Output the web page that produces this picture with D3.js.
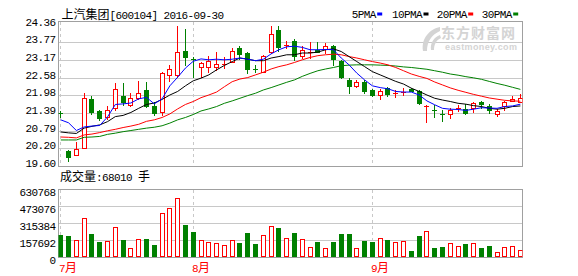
<!DOCTYPE html>
<html>
<head>
<meta charset="utf-8">
<script src="https://cdn.jsdelivr.net/npm/d3@7/dist/d3.min.js"></script>
<style>
body { margin: 0; background: #fff; }
svg { display: block; }
text { font-family: "Liberation Mono", monospace; font-size: 11px; letter-spacing: -0.6px; }
.cjk { font-family: "Noto Sans CJK SC", sans-serif; font-size: 12px; letter-spacing: 0; }
</style>
</head>
<body>
<svg id="chart" width="578" height="276"></svg>
<script>
var stockName = "上汽集团";
var stockCode = "[600104]";
var dates = [
    "2016-07-07", "2016-07-08", "2016-07-11", "2016-07-12", "2016-07-13", "2016-07-14", "2016-07-15",
    "2016-07-18", "2016-07-19", "2016-07-20", "2016-07-21", "2016-07-22", "2016-07-25", "2016-07-26",
    "2016-07-27", "2016-07-28", "2016-07-29",
    "2016-08-01", "2016-08-02", "2016-08-03", "2016-08-04", "2016-08-05", "2016-08-08", "2016-08-09",
    "2016-08-10", "2016-08-11", "2016-08-12", "2016-08-15", "2016-08-16", "2016-08-17", "2016-08-18",
    "2016-08-19", "2016-08-22", "2016-08-23", "2016-08-24", "2016-08-25", "2016-08-26", "2016-08-29",
    "2016-08-30", "2016-08-31",
    "2016-09-01", "2016-09-02", "2016-09-05", "2016-09-06", "2016-09-07", "2016-09-08", "2016-09-09",
    "2016-09-12", "2016-09-13", "2016-09-14", "2016-09-19", "2016-09-20", "2016-09-21", "2016-09-22",
    "2016-09-23", "2016-09-26", "2016-09-27", "2016-09-28", "2016-09-29", "2016-09-30"
];
var opens = [21.37, 20.11, 19.97, 20.21, 21.85, 21.45, 21.26, 21.54, 21.96, 21.66, 21.88, 22.16, 21.63, 21.41, 22.67, 22.67, 23.48,
    23.22, 22.95, 22.93, 22.95, 22.99, 23.12, 23.57, 23.41, 22.87, 22.78, 23.43, 24.19, 23.66, 23.80, 23.32, 23.43, 23.52, 23.54, 23.65, 23.15, 22.50, 22.31, 22.42,
    22.16, 21.99, 22.22, 22.04, 22.08, 22.20, 22.12, 21.59, 21.47, 21.35, 21.34, 21.53, 21.51, 21.56, 21.75, 21.62, 21.34, 21.62, 21.80, 21.77];
var highs = [21.46, 20.12, 20.41, 22.05, 21.94, 21.49, 21.62, 22.39, 22.38, 22.07, 22.46, 22.43, 21.75, 22.77, 23.01, 24.33, 24.22,
    23.26, 23.12, 23.32, 23.44, 23.26, 23.59, 23.65, 23.44, 23.01, 23.35, 24.31, 24.33, 23.80, 23.90, 23.63, 23.78, 23.78, 23.74, 23.69, 23.16, 22.56, 22.50, 22.50,
    22.20, 22.20, 22.27, 22.16, 22.22, 22.23, 22.16, 21.64, 21.66, 21.49, 21.54, 21.66, 21.68, 21.77, 21.79, 21.68, 21.51, 21.79, 21.94, 22.03];
var lows = [21.26, 19.77, 19.95, 20.19, 21.35, 21.15, 21.17, 21.49, 21.64, 21.63, 21.86, 21.60, 21.30, 21.32, 22.45, 22.61, 23.01,
    22.61, 22.61, 22.76, 22.84, 22.90, 23.10, 23.21, 22.73, 22.76, 22.76, 23.41, 23.48, 23.57, 23.18, 23.23, 23.24, 23.43, 23.41, 23.01, 22.56, 22.07, 22.25, 22.05,
    21.97, 21.86, 21.94, 21.92, 21.99, 22.11, 21.68, 21.07, 21.26, 21.12, 21.22, 21.45, 21.34, 21.43, 21.56, 21.37, 21.28, 21.47, 21.80, 21.77];
var closes = [21.36, 19.91, 20.15, 21.88, 21.41, 21.20, 21.48, 22.19, 21.75, 21.88, 22.05, 21.63, 21.37, 22.73, 22.86, 23.44, 23.29,
    23.20, 23.07, 23.15, 23.04, 23.05, 23.48, 23.38, 22.86, 22.85, 23.32, 24.05, 23.60, 23.67, 23.30, 23.52, 23.45, 23.44, 23.66, 23.20, 22.59, 22.31, 22.42, 22.13,
    21.99, 22.14, 22.04, 22.05, 22.10, 22.14, 21.72, 21.63, 21.46, 21.34, 21.49, 21.54, 21.39, 21.73, 21.69, 21.49, 21.45, 21.77, 21.87, 21.90];
var volumes = [205300, 196100, 154800, 361200, 213900, 142700, 149300, 277400, 158200, 81300, 164900, 168100, 112400, 407200, 454100, 547300, 298400,
    232600, 154900, 140200, 130100, 108700, 155100, 129800, 226900, 121300, 202100, 285900, 270200, 174300, 223800, 164700, 90400, 140300, 81200, 139800, 214100, 213700, 80900, 148900,
    140100, 174200, 158300, 139700, 148800, 56200, 196300, 239200, 84100, 93300, 127900, 99800, 121100, 128200, 83800, 102400, 43900, 90200, 100100, 68010];
var ma5 = [21.15, 21.05, 20.79, 20.91, 20.94, 20.96, 21.25, 21.67, 21.69, 21.72, 21.86, 21.91, 21.69, 21.86, 22.30, 22.59, 22.90,
    23.13, 23.21, 23.18, 23.20, 23.18, 23.20, 23.24, 23.20, 23.15, 23.20, 23.38, 23.52, 23.62, 23.64, 23.60, 23.52, 23.52, 23.53, 23.52, 23.24, 23.01, 22.73, 22.50,
    22.30, 22.24, 22.20, 22.11, 22.09, 22.09, 21.99, 21.79, 21.66, 21.54, 21.51, 21.50, 21.47, 21.51, 21.56, 21.55, 21.54, 21.60, 21.62, 21.68];
var ma10 = [20.74, 20.71, 20.69, 20.87, 20.93, 20.98, 21.09, 21.26, 21.30, 21.40, 21.54, 21.67, 21.72, 21.84, 21.99, 22.11, 22.30,
    22.47, 22.56, 22.67, 22.84, 22.99, 23.12, 23.24, 23.20, 23.15, 23.15, 23.24, 23.29, 23.35, 23.35, 23.41, 23.41, 23.44, 23.52, 23.55, 23.46, 23.29, 23.12, 22.95,
    22.78, 22.67, 22.56, 22.45, 22.36, 22.22, 22.11, 21.99, 21.88, 21.82, 21.77, 21.71, 21.68, 21.63, 21.60, 21.54, 21.51, 21.54, 21.60, 21.62];
var ma20 = [20.57, 20.56, 20.54, 20.64, 20.67, 20.72, 20.78, 20.83, 20.89, 20.94, 21.00, 21.10, 21.15, 21.23, 21.35, 21.52, 21.67,
    21.77, 21.90, 21.99, 22.09, 22.27, 22.44, 22.53, 22.58, 22.67, 22.76, 22.87, 22.95, 23.01, 23.09, 23.18, 23.26, 23.32, 23.35, 23.37, 23.35, 23.29, 23.24, 23.18,
    23.12, 23.07, 23.01, 22.92, 22.81, 22.70, 22.62, 22.55, 22.43, 22.33, 22.23, 22.15, 22.08, 22.01, 21.95, 21.89, 21.85, 21.81, 21.79, 21.78];
var ma30 = [20.47, 20.47, 20.47, 20.56, 20.57, 20.59, 20.66, 20.70, 20.75, 20.79, 20.83, 20.87, 20.90, 20.95, 21.04, 21.15, 21.23,
    21.33, 21.45, 21.52, 21.60, 21.71, 21.79, 21.88, 21.97, 22.05, 22.16, 22.24, 22.33, 22.42, 22.50, 22.62, 22.72, 22.81, 22.87, 22.92, 22.98, 23.00, 23.01, 23.01,
    23.01, 23.00, 22.99, 22.97, 22.94, 22.92, 22.89, 22.86, 22.81, 22.76, 22.70, 22.66, 22.61, 22.57, 22.52, 22.45, 22.38, 22.32, 22.25, 22.18];
var priceTicks = ["19.60", "20.20", "20.79", "21.39", "21.98", "22.58", "23.17", "23.77", "24.36"];
var volumeTicks = [0, 157692, 315384, 473076, 630768];
var maNames = ["5PMA", "10PMA", "20PMA", "30PMA"];
var maColors = ["#0000ff", "#000000", "#ff0000", "#008000"];

var RED = "#ff0000", GREEN = "#008000";
var svg = d3.select("#chart");

// layout
var left = 58.5, right = 522.5;
var priceTop = 21.5, priceBottom = 166;
var volTop = 189.5, volBottom = 257;

var x = d3.scaleBand().domain(dates).range([56.9, 524.3]);
function cx(d) { return x(d) + x.bandwidth() / 2; }

var yP = d3.scaleLinear().domain([19.60, 24.36]).range([165.7, 24.9]);
var yV = d3.scaleLinear().domain([0, 630768]).range([volBottom, volTop]);

function crisp(v) { return Math.round(v) + 0.5; }

var defs = svg.append("defs");
defs.append("clipPath").attr("id", "clipP").append("rect")
    .attr("x", left).attr("y", priceTop).attr("width", right - left).attr("height", priceBottom - priceTop);
defs.append("clipPath").attr("id", "clipV").append("rect")
    .attr("x", left).attr("y", volTop).attr("width", right - left).attr("height", volBottom - volTop);

// grid
var grid = svg.append("g").attr("shape-rendering", "crispEdges");
grid.selectAll("line.pg").data(priceTicks.slice(1, priceTicks.length - 1)).enter().append("line")
    .attr("x1", left).attr("x2", right)
    .attr("y1", function(d) { return crisp(yP(+d)); })
    .attr("y2", function(d) { return crisp(yP(+d)); })
    .attr("stroke", "#c8c8c8");
grid.selectAll("line.vg").data(volumeTicks.slice(1, volumeTicks.length - 1)).enter().append("line")
    .attr("x1", left).attr("x2", right)
    .attr("y1", function(d) { return crisp(yV(d)); })
    .attr("y2", function(d) { return crisp(yV(d)); })
    .attr("stroke", "#c8c8c8");

// month starts
var monthStarts = dates.filter(function(d, i) { return i == 0 || d.slice(5, 7) != dates[i - 1].slice(5, 7); });
monthStarts.forEach(function(d) {
    var xx = Math.floor(cx(d)) + 0.5;
    [[priceTop, priceBottom], [volTop, volBottom]].forEach(function(r) {
        grid.append("line").attr("x1", xx).attr("x2", xx).attr("y1", r[0]).attr("y2", r[1])
            .attr("stroke", "#c8c8c8").attr("stroke-dasharray", "3,3");
    });
    svg.append("text").attr("x", Math.round(cx(d) - 2.5) + 1).attr("y", 272).attr("fill", RED)
        .text(+d.slice(5, 7))
        .append("tspan").attr("class", "cjk").text("月");
});

// watermark
var wm = svg.append("g").attr("fill", "#d4d4d4");
wm.append("path").attr("d", "M440,27 C430,29 421,38 423,51 L427,51 C427,42 431,35 440,31 Z M440,35 C434,37 430,43 431,50 L434,50 C434,45 436,40 441,38 Z");
wm.append("text").attr("class", "cjk").attr("x", 441).attr("y", 37.5)
    .style("font-size", "14px").style("letter-spacing", "1px").style("font-weight", "bold").text("东方财富网");
wm.append("text").attr("x", 445).attr("y", 50).attr("textLength", 72)
    .style("font-family", "Liberation Sans, sans-serif").style("font-size", "9px")
    .style("font-weight", "bold").style("letter-spacing", "0").text("eastmoney.com");

// frames
svg.append("rect").attr("x", left).attr("y", priceTop).attr("width", right - left).attr("height", priceBottom - priceTop)
    .attr("fill", "none").attr("stroke", "#a0a0a0").attr("shape-rendering", "crispEdges");
svg.append("rect").attr("x", left).attr("y", volTop).attr("width", right - left).attr("height", volBottom - volTop)
    .attr("fill", "none").attr("stroke", "#a0a0a0").attr("shape-rendering", "crispEdges");

// candles
var candles = svg.append("g").attr("clip-path", "url(#clipP)").attr("shape-rendering", "crispEdges");
dates.forEach(function(d, i) {
    var l = Math.round(cx(d) - 2.5);
    var wx = l + 2.5;
    var up = closes[i] >= opens[i];
    var col = up ? RED : GREEN;
    var top = Math.round(yP(Math.max(opens[i], closes[i])));
    var bot = Math.round(yP(Math.min(opens[i], closes[i])));
    candles.append("line").attr("x1", wx).attr("x2", wx)
        .attr("y1", Math.round(yP(highs[i]))).attr("y2", Math.round(yP(lows[i])) + 1)
        .attr("stroke", col);
    if (bot - top < 2) {
        candles.append("line").attr("x1", l).attr("x2", l + 5)
            .attr("y1", top + 0.5).attr("y2", top + 0.5).attr("stroke", col);
    } else if (up) {
        candles.append("rect").attr("x", l + 0.5).attr("y", top + 0.5)
            .attr("width", 4).attr("height", bot - top)
            .attr("fill", "#fff").attr("stroke", col);
    } else {
        candles.append("rect").attr("x", l).attr("y", top)
            .attr("width", 5).attr("height", bot - top + 1).attr("fill", col);
    }
});

// moving averages
var maLine = d3.line().x(function(d, i) { return cx(dates[i]); }).y(function(d) { return yP(d); });
var maGroup = svg.append("g").attr("clip-path", "url(#clipP)");
[ma30, ma20, ma10, ma5].forEach(function(s, k) {
    maGroup.append("path").attr("d", maLine(s)).attr("fill", "none")
        .attr("stroke", maColors[3 - k]).attr("stroke-width", 1);
});

// volume
var vol = svg.append("g").attr("clip-path", "url(#clipV)").attr("shape-rendering", "crispEdges");
dates.forEach(function(d, i) {
    var l = Math.round(cx(d) - 2.5);
    var t = Math.round(yV(volumes[i]));
    if (closes[i] >= opens[i]) {
        vol.append("rect").attr("x", l + 0.5).attr("y", t + 0.5).attr("width", 4).attr("height", volBottom - t - 1)
            .attr("fill", "#fff").attr("stroke", RED);
    } else {
        vol.append("rect").attr("x", l).attr("y", t).attr("width", 5).attr("height", volBottom - t).attr("fill", GREEN);
    }
});

// axis labels
svg.append("g").selectAll("text").data(priceTicks).enter().append("text")
    .attr("x", 55.5).attr("y", function(d) { return yP(+d) + 1; })
    .attr("text-anchor", "end").text(function(d) { return d; });
svg.append("g").selectAll("text").data(volumeTicks).enter().append("text")
    .attr("x", 55.5).attr("y", function(d) { return yV(d) + 6.5; })
    .attr("text-anchor", "end").text(function(d) { return d; });

// title
var title = svg.append("text").attr("x", 61.5).attr("y", 18.5);
title.append("tspan").attr("class", "cjk").text(stockName);
title.append("tspan").text(stockCode + " " + dates[dates.length - 1]);

// legend
var legendX = [351.7, 392, 436.7, 481.7];
maNames.forEach(function(n, k) {
    svg.append("text").attr("x", legendX[k]).attr("y", 18).text(n);
    svg.append("rect").attr("x", legendX[k] + n.length * 6 + 1.5).attr("y", 12.5)
        .attr("width", 5).attr("height", 3).attr("fill", maColors[k]);
});

// volume caption
var cap = svg.append("text").attr("x", 60).attr("y", 181);
cap.append("tspan").attr("class", "cjk").text("成交量");
cap.append("tspan").text(":" + volumes[volumes.length - 1] + " ");
cap.append("tspan").attr("class", "cjk").text("手");
</script>
</body>
</html>
